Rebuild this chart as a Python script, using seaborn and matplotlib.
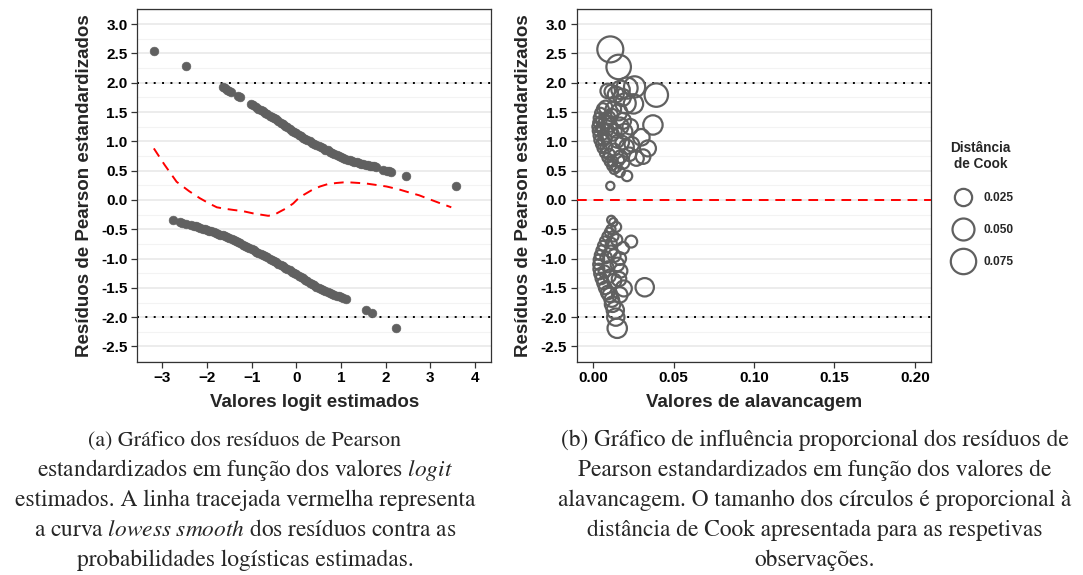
import numpy as np
import pandas as pd
import matplotlib
matplotlib.use("Agg")
import matplotlib.pyplot as plt
import matplotlib.colors as mcolors
from matplotlib.lines import Line2D
from matplotlib.ticker import MultipleLocator, FormatStrFormatter
import seaborn as sns

# ---------------- data ----------------
# Panel (a): fitted logit vs standardized Pearson residual
logit_pos = [-3.19, -2.48, -1.65, -1.60, -1.55, -1.50, -1.47, -1.30, -1.27,
             -1.02, -0.98, -0.90, -0.85, -0.80, -0.75, -0.70, -0.65, -0.60, -0.55, -0.50,
             -0.45, -0.40, -0.35, -0.30, -0.25, -0.20, -0.15, -0.10, -0.05, 0.00,
             0.05, 0.10, 0.15, 0.20, 0.25, 0.30, 0.35, 0.40, 0.45, 0.50, 0.55, 0.60,
             0.65, 0.70, 0.75, 0.80, 0.85, 0.90, 0.95, 1.00, 1.05, 1.10, 1.15, 1.20,
             1.25, 1.30, 1.35, 1.40, 1.45, 1.50, 1.55, 1.60, 1.65, 1.70, 1.74, 1.78,
             1.95, 2.02, 2.08, 2.13, 2.45, 3.58]
resid_pos = [2.55, 2.28, 1.93, 1.91, 1.88, 1.86, 1.85, 1.78, 1.76,
             1.64, 1.62, 1.585, 1.56, 1.54, 1.515, 1.49, 1.465, 1.44, 1.42, 1.40,
             1.375, 1.35, 1.32, 1.295, 1.265, 1.24, 1.21, 1.185, 1.16, 1.14,
             1.115, 1.09, 1.065, 1.045, 1.02, 1.00, 0.98, 0.96, 0.94, 0.92, 0.90, 0.88,
             0.86, 0.845, 0.825, 0.81, 0.79, 0.77, 0.75, 0.735, 0.72, 0.705, 0.69, 0.675,
             0.66, 0.65, 0.64, 0.63, 0.62, 0.61, 0.60, 0.595, 0.585, 0.58, 0.572, 0.565,
             0.51, 0.50, 0.49, 0.47, 0.41, 0.24]

logit_neg = [-2.77, -2.60, -2.55, -2.48, -2.35, -2.30, -2.25, -2.20, -2.15, -2.10, -2.05,
             -2.00, -1.95, -1.90, -1.85, -1.80, -1.75, -1.70, -1.65, -1.60, -1.55, -1.50,
             -1.45, -1.40, -1.35, -1.30, -1.25, -1.20, -1.15, -1.10, -1.05, -1.00, -0.95,
             -0.90, -0.85, -0.80, -0.75, -0.70, -0.65, -0.60, -0.55, -0.50, -0.45, -0.40,
             -0.35, -0.30, -0.25, -0.20, -0.15, -0.10, -0.05, 0.00, 0.05, 0.10, 0.15,
             0.20, 0.25, 0.30, 0.35, 0.40, 0.45, 0.50, 0.55, 0.60, 0.65, 0.70, 0.75,
             0.80, 0.85, 0.90, 0.95, 1.00, 1.05, 1.11, 1.56, 1.69, 2.24]
resid_neg = [-0.35, -0.38, -0.39, -0.41, -0.43, -0.44, -0.452, -0.465, -0.478, -0.49, -0.50,
             -0.51, -0.522, -0.535, -0.548, -0.56, -0.575, -0.59, -0.605, -0.62, -0.635, -0.65,
             -0.67, -0.69, -0.705, -0.72, -0.742, -0.765, -0.782, -0.80, -0.82, -0.84, -0.86,
             -0.88, -0.90, -0.92, -0.94, -0.96, -0.98, -1.00, -1.022, -1.045, -1.067, -1.09,
             -1.112, -1.135, -1.157, -1.18, -1.202, -1.225, -1.247, -1.27, -1.292, -1.315, -1.337,
             -1.36, -1.385, -1.41, -1.432, -1.455, -1.477, -1.50, -1.52, -1.54, -1.557, -1.575, -1.59,
             -1.605, -1.62, -1.635, -1.647, -1.66, -1.675, -1.69, -1.88, -1.93, -2.18]

# lowess smooth curve (red dashed)
lowess_x = [-3.19, -2.95, -2.68, -2.40, -2.16, -1.95, -1.78, -1.60, -1.41, -1.20, -0.96,
            -0.80, -0.63, -0.50, -0.37, -0.22, -0.07, 0.05, 0.16, 0.35, 0.53, 0.70,
            0.90, 1.05, 1.20, 1.40, 1.57, 1.80, 2.02, 2.30, 2.54, 2.75, 2.92, 3.20, 3.47]
lowess_y = [0.88, 0.60, 0.31, 0.15, 0.03, -0.06, -0.125, -0.15, -0.17, -0.19, -0.23,
            -0.25, -0.27, -0.255, -0.20, -0.14, -0.06, 0.03, 0.085, 0.17, 0.23, 0.27,
            0.29, 0.30, 0.30, 0.29, 0.28, 0.255, 0.23, 0.18, 0.125, 0.08, 0.03, -0.05, -0.125]

# Panel (b): leverage, standardized residual, Cook's distance
lev = [0.0106, 0.0158, 0.0257, 0.0112, 0.0210, 0.0170, 0.0392, 0.0201, 0.0250, 0.0077,
       0.0114, 0.0371, 0.0166, 0.0195, 0.0299, 0.0135, 0.0060, 0.0149, 0.0340, 0.0310,
       0.0268, 0.0170, 0.0207, 0.0164, 0.0210, 0.0106,
       0.0090, 0.0140, 0.0180, 0.0060, 0.0045, 0.0035, 0.0030, 0.0025, 0.0025, 0.0030,
       0.0035, 0.0045, 0.0055, 0.0070, 0.0085, 0.0100, 0.0115, 0.0130, 0.0145, 0.0120,
       0.0100, 0.0080, 0.0065, 0.0060, 0.0075, 0.0095, 0.0125, 0.0105, 0.0120, 0.0130,
       0.0155, 0.0185, 0.0225, 0.0240, 0.0185, 0.0160, 0.0230, 0.0090, 0.0045, 0.0050,
       0.0080, 0.0180,
       0.0112, 0.0125, 0.0143, 0.0110, 0.0236, 0.0112, 0.0185, 0.0164, 0.0091, 0.0170,
       0.0320, 0.0190, 0.0102, 0.0137, 0.0149,
       0.0100, 0.0085, 0.0070, 0.0060, 0.0050, 0.0040, 0.0035, 0.0032, 0.0035, 0.0040,
       0.0050, 0.0062, 0.0075, 0.0090, 0.0115, 0.0120, 0.0125, 0.0110, 0.0080, 0.0130,
       0.0150, 0.0070, 0.0100, 0.0130, 0.0160, 0.0145, 0.0165, 0.0140]
res = [2.57, 2.27, 1.93, 1.85, 1.91, 1.88, 1.79, 1.65, 1.64, 1.58,
       1.45, 1.28, 1.26, 1.17, 1.07, 1.18, 1.11, 1.00, 0.88, 0.74,
       0.71, 0.74, 0.91, 0.48, 0.41, 0.24,
       1.86, 1.80, 1.75, 1.55, 1.48, 1.40, 1.32, 1.25, 1.18, 1.10,
       1.02, 0.95, 0.88, 0.80, 0.72, 0.65, 0.58, 0.52, 0.56, 0.66,
       0.78, 0.90, 1.02, 1.22, 1.33, 1.40, 1.55, 1.28, 1.12, 0.86,
       0.68, 0.64, 0.78, 0.95, 1.35, 1.50, 1.25, 1.20, 1.22, 1.35,
       1.05, 0.98,
       -0.34, -0.38, -0.46, -0.50, -0.71, -0.74, -0.82, -1.00, -1.14, -1.21,
       -1.49, -1.51, -1.62, -1.88, -2.19,
       -0.55, -0.62, -0.70, -0.78, -0.86, -0.94, -1.02, -1.10, -1.18, -1.26,
       -1.34, -1.42, -1.50, -1.58, -1.70, -1.78, -0.62, -0.88, -0.98, -0.95,
       -1.10, -1.22, -1.30, -1.38, -1.35, -0.68, -1.62, -2.00]
cook = [0.080, 0.068, 0.045, 0.012, 0.045, 0.030, 0.060, 0.040, 0.035, 0.012,
        0.010, 0.035, 0.025, 0.018, 0.022, 0.012, 0.004, 0.010, 0.020, 0.015,
        0.016, 0.010, 0.015, 0.005, 0.005, 0.002,
        0.015, 0.020, 0.025, 0.008, 0.006, 0.005, 0.004, 0.004, 0.003, 0.003,
        0.003, 0.003, 0.003, 0.003, 0.003, 0.003, 0.003, 0.003, 0.004, 0.005,
        0.006, 0.007, 0.007, 0.008, 0.010, 0.012, 0.018, 0.012, 0.010, 0.008,
        0.008, 0.010, 0.012, 0.015, 0.020, 0.022, 0.018, 0.008, 0.004, 0.005,
        0.006, 0.012,
        0.002, 0.002, 0.004, 0.003, 0.008, 0.006, 0.008, 0.010, 0.006, 0.012,
        0.030, 0.020, 0.014, 0.025, 0.035,
        0.003, 0.003, 0.003, 0.004, 0.004, 0.004, 0.005, 0.005, 0.006, 0.006,
        0.007, 0.008, 0.010, 0.012, 0.015, 0.018, 0.005, 0.008, 0.007, 0.010,
        0.012, 0.008, 0.010, 0.014, 0.015, 0.007, 0.018, 0.025]

legend_cook = [0.025, 0.050, 0.075]
legend_labels = ["0.025", "0.050", "0.075"]

ylabel = "Resíduos de Pearson estandardizados"
xlabel_a = "Valores logit estimados"
xlabel_b = "Valores de alavancagem"

caption_a = ["(a) Gráfico dos resíduos de Pearson",
             r"estandardizados em função dos valores $\mathit{logit}$",
             "estimados. A linha tracejada vermelha representa",
             r"a curva $\mathit{lowess\ smooth}$ dos resíduos contra as",
             "probabilidades logísticas estimadas."]
caption_b = ["(b) Gráfico de influência proporcional dos resíduos de",
             "Pearson estandardizados em função dos valores de",
             "alavancagem. O tamanho dos círculos é proporcional à",
             "distância de Cook apresentada para as respetivas",
             "observações."]

# ---------------- styling ----------------
sns.set_theme(style="white")
plt.rcParams['font.family'] = ['Liberation Sans', 'DejaVu Sans']
plt.rcParams['mathtext.fontset'] = 'stix'

GREY = "#606060"
GRID_MAJ = "#EBEBEB"
GRID_MIN = "#F3F3F3"

fig = plt.figure(figsize=(10.83, 5.75), dpi=100)
ax1 = fig.add_axes([0.1268, 0.371, 0.3266, 0.6134])
ax2 = fig.add_axes([0.5325, 0.371, 0.3271, 0.6134])

df_a_pos = pd.DataFrame({"logit": logit_pos, "resid": resid_pos})
df_a_neg = pd.DataFrame({"logit": logit_neg, "resid": resid_neg})
df_a = pd.concat([df_a_pos, df_a_neg], ignore_index=True)
df_low = pd.DataFrame({"x": lowess_x, "y": lowess_y})
df_b = pd.DataFrame({"lev": lev, "res": res, "cook": cook})


def style_axes(ax):
    ax.set_ylim(-2.76, 3.26)
    ax.yaxis.set_major_locator(MultipleLocator(0.5))
    ax.yaxis.set_minor_locator(MultipleLocator(0.25))
    ax.yaxis.set_major_formatter(FormatStrFormatter("%.1f"))
    ax.grid(False)
    ax.grid(True, axis="y", which="major", color=GRID_MAJ, linewidth=1.3, zorder=0)
    ax.grid(True, axis="y", which="minor", color=GRID_MIN, linewidth=0.8, zorder=0)
    ax.set_axisbelow(True)
    for sp in ax.spines.values():
        sp.set_color("#333333")
        sp.set_linewidth(0.9)
    ax.tick_params(axis="both", which="major", direction="out", length=4, width=0.9,
                   color="#333333", labelsize=11, labelcolor="black", pad=3,
                   left=True, bottom=True)
    ax.tick_params(axis="y", which="minor", length=0, left=False)
    for lab in ax.get_xticklabels() + ax.get_yticklabels():
        lab.set_fontweight("bold")
    ax.set_ylabel(ylabel, fontsize=13.5, fontweight="bold", labelpad=6)


# ---- panel (a)
sns.scatterplot(data=df_a, x="logit", y="resid", ax=ax1, color=GREY, s=40,
                edgecolor=GREY, linewidth=0.4, zorder=3)
sns.lineplot(data=df_low, x="x", y="y", ax=ax1, color="#FF0000", linewidth=1.4,
             dashes=False, zorder=4)
ax1.lines[-1].set_dashes((5, 3.5))
for yv in (2, -2):
    ax1.axhline(yv, color="black", linewidth=1.4, linestyle=(0, (1, 3.3)), zorder=2)
ax1.set_xlim(-3.56, 4.36)
ax1.xaxis.set_major_locator(MultipleLocator(1))
style_axes(ax1)
ax1.set_xlabel(xlabel_a, fontsize=13.5, fontweight="bold", labelpad=6)

# ---- panel (b)
size_norm = mcolors.PowerNorm(gamma=0.75, vmin=0.0, vmax=0.08)
SMIN, SMAX = 14, 350
sns.scatterplot(data=df_b, x="lev", y="res", size="cook", sizes=(SMIN, SMAX),
                size_norm=size_norm, ax=ax2, color=GREY, facecolor="none",
                edgecolor=GREY, linewidth=1.6, legend=False, zorder=3)
ax2.axhline(0, color="#FF0000", linewidth=1.4, dashes=(5, 3.5), zorder=4)
for yv in (2, -2):
    ax2.axhline(yv, color="black", linewidth=1.4, linestyle=(0, (1, 3.3)), zorder=2)
ax2.set_xlim(-0.0103, 0.21)
ax2.xaxis.set_major_locator(MultipleLocator(0.05))
ax2.xaxis.set_major_formatter(FormatStrFormatter("%.2f"))
style_axes(ax2)
ax2.set_xlabel(xlabel_b, fontsize=13.5, fontweight="bold", labelpad=6)

# legend built with the same size scale
handles = []
for c in legend_cook:
    s_val = SMIN + float(size_norm(c)) * (SMAX - SMIN)
    handles.append(Line2D([], [], linestyle="none", marker="o", markersize=np.sqrt(s_val),
                          markerfacecolor="none", markeredgecolor=GREY, markeredgewidth=1.6))
leg = fig.legend(handles, legend_labels, title="Distância\nde Cook",
                 loc="upper left", bbox_to_anchor=(0.867, 0.769), frameon=False,
                 prop={"weight": "bold", "size": 8.6}, labelspacing=1.70,
                 handletextpad=0.3, borderpad=0.2, handlelength=2.7)
leg.get_title().set_fontweight("bold")
leg.get_title().set_fontsize(9.8)
leg.get_title().set_multialignment("center")

# ---- captions
cap_kw = dict(ha="center", va="baseline", family="STIXGeneral")
y0 = 575 - 446
for i, line in enumerate(caption_a):
    fig.text(245 / 1083, (y0 - 30 * i) / 575, line,
             fontsize=(15.8 if i == 0 else 16.8), **cap_kw)
for i, line in enumerate(caption_b):
    fig.text(815 / 1083, (y0 - 30 * i) / 575, line, fontsize=16.8, **cap_kw)

fig.savefig("out.png", dpi=100)
